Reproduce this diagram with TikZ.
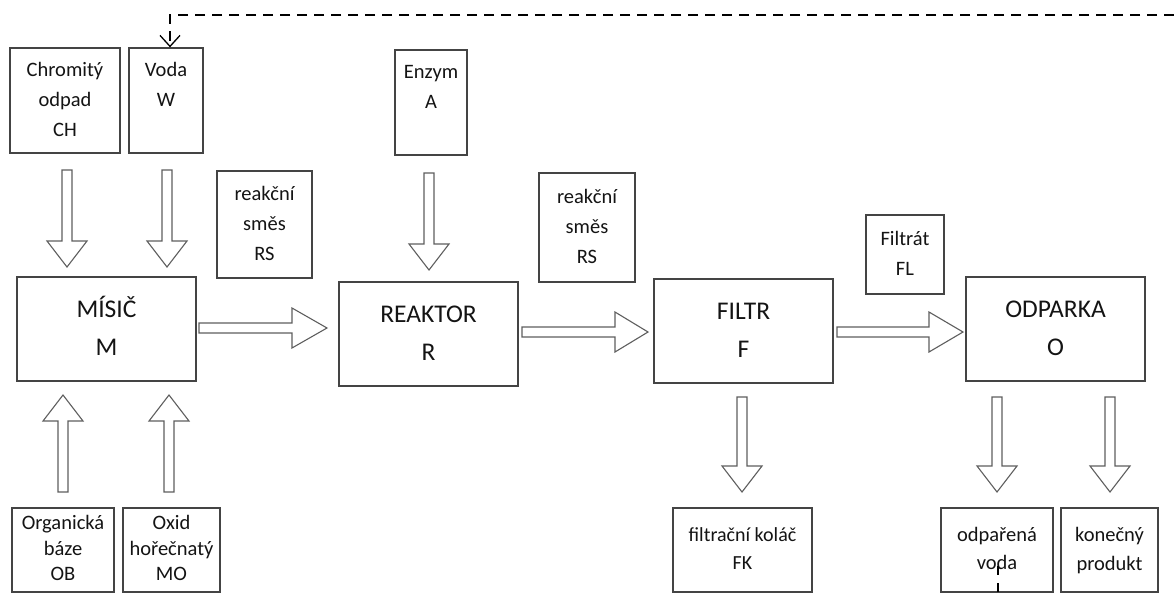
\documentclass[tikz,border=0pt]{standalone}
\usepackage{fontspec}
\setmainfont{Carlito}
\usetikzlibrary{calc,arrows.meta}
\definecolor{boxgray}{HTML}{444444}
\definecolor{arrgray}{HTML}{5E5E5E}
\definecolor{txt}{HTML}{141414}
\tikzset{
  box/.style={draw=boxgray, line width=1.3pt, inner sep=0pt, align=center, text=txt,
    font=\fontsize{20.5}{30}\selectfont},
  bigbox/.style={box, font=\fontsize{25.5}{38}\selectfont},
  blockarrow/.style={draw=arrgray, line width=1.1pt, fill=white, line join=miter,
    to path={
      ($(\tikztotarget)!#1!(\tikztostart)$) coordinate (hbX)
      ($(\tikztostart)!5pt!90:(\tikztotarget)$)
      -- ($(hbX)!5pt!90:(\tikztotarget)$)
      -- ($(hbX)!20pt!90:(\tikztotarget)$)
      -- (\tikztotarget)
      -- ($(hbX)!20pt!-90:(\tikztotarget)$)
      -- ($(hbX)!5pt!-90:(\tikztotarget)$)
      -- ($(\tikztostart)!5pt!-90:(\tikztotarget)$)
      -- cycle}},
  blockarrow/.default=26pt,
  fbline/.style={draw=black, line width=1.6pt, dash pattern=on 10pt off 7pt}
}
\begin{document}
\begin{tikzpicture}[x=1pt,y=-1pt]
\path[fill=white, use as bounding box] (0,0) rectangle (1174,597);

% boxes
\node[box, minimum width=110pt, minimum height=105pt] (CH) at (65,100.5) {\strut Chromitý\\\strut odpad\\\strut CH};
\node[box, minimum width=74pt, minimum height=105pt] (W) at (166,100.5) {\strut Voda\\\strut W\\\strut};
\node[box, minimum width=95pt, minimum height=107pt] (RS1) at (264.5,224.5) {\strut reakční\\\strut směs\\\strut RS};
\node[bigbox, minimum width=179pt, minimum height=104pt] (M) at (106.5,329) {\strut MÍSIČ\\\strut M};
\node[box, minimum width=102pt, minimum height=84pt, font=\fontsize{20.5}{25.5}\selectfont] (OB) at (63,550) {\strut Organická\\\strut báze\\\strut OB};
\node[box, minimum width=97pt, minimum height=84pt, font=\fontsize{20.5}{25.5}\selectfont] (MO) at (171.5,550) {\strut Oxid\\\strut hořečnatý\\\strut MO};
\node[box, minimum width=72pt, minimum height=105pt] (EN) at (431,102.5) {\strut Enzym\\\strut A\\\strut};
\node[bigbox, minimum width=179pt, minimum height=104pt] (R) at (428.5,334) {\strut REAKTOR\\\strut R};
\node[box, minimum width=96pt, minimum height=109pt] (RS2) at (587,227.5) {\strut reakční\\\strut směs\\\strut RS};
\node[bigbox, minimum width=179pt, minimum height=104pt] (F) at (743.5,331) {\strut FILTR\\\strut F};
\node[box, minimum width=78pt, minimum height=79pt] (FL) at (905,254.5) {\strut Filtrát\\\strut FL};
\node[bigbox, minimum width=179pt, minimum height=104pt] (O) at (1055.5,329) {\strut ODPARKA\\\strut O};
\node[box, minimum width=139pt, minimum height=84pt, font=\fontsize{20}{28}\selectfont] (FK) at (742.5,550) {\strut filtrační koláč\\\strut FK};
\node[box, minimum width=112pt, minimum height=84pt, font=\fontsize{20.5}{28}\selectfont] (OV) at (997,550) {\strut odpařená\\\strut voda};
\node[box, minimum width=97pt, minimum height=84pt, font=\fontsize{20.5}{29}\selectfont] (KP) at (1109.5,550) {\strut konečný\\\strut produkt};

% arrow end points
\coordinate (chA) at (67,170);   \coordinate (chB) at (67,267);
\coordinate (wA) at (167,170);   \coordinate (wB) at (167,267);
\coordinate (obA) at (63,492);   \coordinate (obB) at (63,395);
\coordinate (moA) at (169,492);  \coordinate (moB) at (169,395);
\coordinate (mA) at (199,328);   \coordinate (mB) at (327,328);
\coordinate (enA) at (429,173);  \coordinate (enB) at (429,270);
\coordinate (rA) at (522,332);   \coordinate (rB) at (648,332);
\coordinate (fA) at (837,332);   \coordinate (fB) at (963,332);
\coordinate (fkA) at (742,397);  \coordinate (fkB) at (742,492);
\coordinate (ovA) at (997,397);  \coordinate (ovB) at (997,492);
\coordinate (kpA) at (1110,397); \coordinate (kpB) at (1110,492);

\draw[blockarrow] (chA) to (chB);
\draw[blockarrow] (wA) to (wB);
\draw[blockarrow] (obA) to (obB);
\draw[blockarrow] (moA) to (moB);
\draw[blockarrow=35pt] (mA) to (mB);
\draw[blockarrow] (enA) to (enB);
\draw[blockarrow=33pt] (rA) to (rB);
\draw[blockarrow=34pt] (fA) to (fB);
\draw[blockarrow] (fkA) to (fkB);
\draw[blockarrow] (ovA) to (ovB);
\draw[blockarrow] (kpA) to (kpB);

% feedback (dashed)
\coordinate (fbR) at (1174,15);
\coordinate (fbC) at (170,15);
\coordinate (fbS) at (998,566);
\draw[fbline, -{Straight Barb[length=11pt,width=20pt,line width=1.3pt]}] (fbR) -- (fbC) -- (fbC |- W.north);
\draw[fbline, dash pattern=on 9pt off 8pt] (fbS) -- (fbS |- OV.south);
\end{tikzpicture}
\end{document}
